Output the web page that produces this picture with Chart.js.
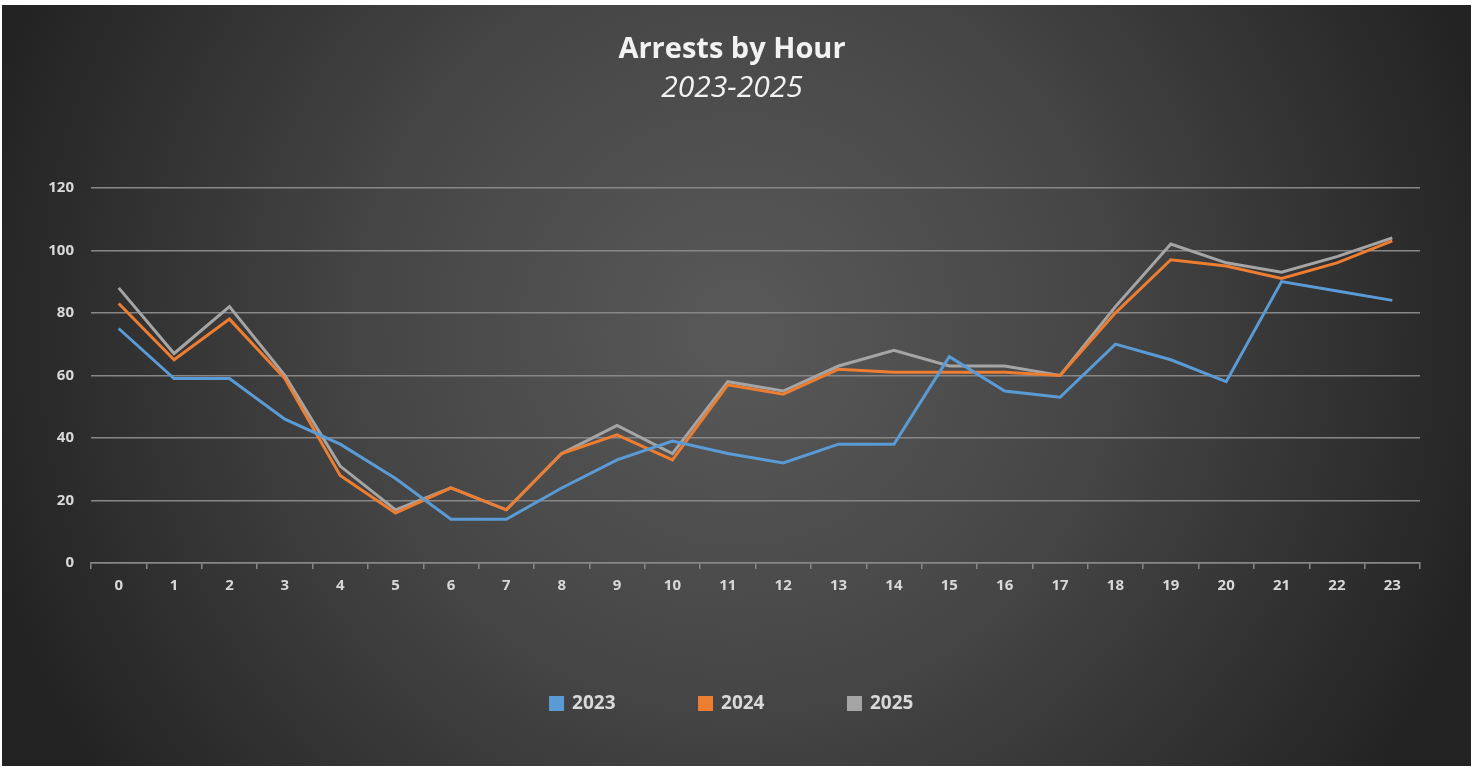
<!DOCTYPE html>
<html>
<head>
<meta charset="utf-8">
<title>Arrests by Hour</title>
<script src="https://cdn.jsdelivr.net/npm/chart.js@4/dist/chart.umd.min.js"></script>
<style>
  html, body { margin: 0; padding: 0; background: #ffffff; }
  #wrap { width: 1473px; height: 768px; }
</style>
</head>
<body>
<div id="wrap"><canvas id="arrestsChart" width="1473" height="768"></canvas></div>
<script>
// horas del día
const hours = ['0', '1', '2', '3', '4', '5', '6', '7', '8', '9', '10', '11',
               '12', '13', '14', '15', '16', '17', '18', '19', '20', '21', '22', '23'];

// arrestos por año
const arrests2023 = [75, 59, 59, 46, 38, 27, 14, 14, 24, 33, 39, 35, 32, 38, 38, 66, 55, 53, 70, 65, 58, 90, 87, 84];
const arrests2024 = [83, 65, 78, 59, 28, 16, 24, 17, 35, 41, 33, 57, 54, 62, 61, 61, 61, 60, 80, 97, 95, 91, 96, 103];
const arrests2025 = [88, 67, 82, 60, 31, 17, 24, 17, 35, 44, 35, 58, 55, 63, 68, 63, 63, 60, 82, 102, 96, 93, 98, 104];

const yTicks = [0, 20, 40, 60, 80, 100, 120];

const textColor = '#d9d9d9';
const gridColor = '#878787';

// fondo oscuro con degradado radial (estilo Excel)
const backgroundPlugin = {
    id: 'darkBackground',
    beforeDraw(chart) {
        const ctx = chart.ctx;
        ctx.save();
        ctx.fillStyle = '#ffffff';
        ctx.fillRect(0, 0, chart.width, chart.height);
        const g = ctx.createRadialGradient(737, 330, 20, 737, 330, 780);
        g.addColorStop(0, '#585858');
        g.addColorStop(0.45, '#464646');
        g.addColorStop(1, '#232323');
        ctx.fillStyle = g;
        ctx.fillRect(2, 5, 1469, 761);
        ctx.restore();
    }
};

const ctx = document.getElementById('arrestsChart').getContext('2d');

new Chart(ctx, {
    type: 'line',
    data: {
        labels: hours,
        datasets: [
            { label: '2023', data: arrests2023, borderColor: '#5b9bd5', backgroundColor: '#5b9bd5' },
            { label: '2024', data: arrests2024, borderColor: '#ed7d31', backgroundColor: '#ed7d31' },
            { label: '2025', data: arrests2025, borderColor: '#a5a5a5', backgroundColor: '#a5a5a5' }
        ].map(ds => Object.assign(ds, {
            borderWidth: 3,
            pointRadius: 0,
            tension: 0,
            fill: false
        }))
    },
    options: {
        responsive: false,
        animation: false,
        layout: { padding: { left: 44, right: 53, top: 0, bottom: 45 } },
        scales: {
            x: {
                offset: true,
                afterFit(scale) { scale.height += 7; },
                grid: {
                    display: true,
                    offset: true,
                    drawOnChartArea: false,
                    drawTicks: true,
                    tickLength: 6,
                    color: gridColor,
                    lineWidth: 1.5
                },
                border: { display: true, color: gridColor, width: 1.5 },
                ticks: {
                    color: textColor,
                    font: { family: 'Open Sans', size: 15, weight: 'bold' },
                    padding: 8,
                    maxRotation: 0,
                    autoSkip: false
                }
            },
            y: {
                min: 0,
                max: 120,
                afterBuildTicks(scale) {
                    scale.ticks = yTicks.map(v => ({ value: v }));
                },
                afterFit(scale) { scale.width = 47; },
                grid: { color: gridColor, lineWidth: 1.5, drawTicks: false },
                border: { display: false },
                ticks: {
                    color: textColor,
                    font: { family: 'Open Sans', size: 15, weight: 'bold' },
                    padding: 17
                }
            }
        },
        plugins: {
            title: {
                display: true,
                text: 'Arrests by Hour',
                color: '#f2f2f2',
                font: { family: 'Open Sans', size: 29, weight: 'bold' },
                padding: { top: 32, bottom: 4 }
            },
            subtitle: {
                display: true,
                text: '2023-2025',
                color: '#f2f2f2',
                font: { family: 'Open Sans', size: 30, style: 'italic', weight: 'normal' },
                padding: { top: 0, bottom: 81 }
            },
            legend: {
                position: 'bottom',
                labels: {
                    color: textColor,
                    font: { family: 'Open Sans', size: 19, weight: 'bold' },
                    boxWidth: 12,
                    boxHeight: 12,
                    padding: 84
                }
            },
            tooltip: { enabled: false }
        }
    },
    plugins: [backgroundPlugin]
});
</script>
</body>
</html>
